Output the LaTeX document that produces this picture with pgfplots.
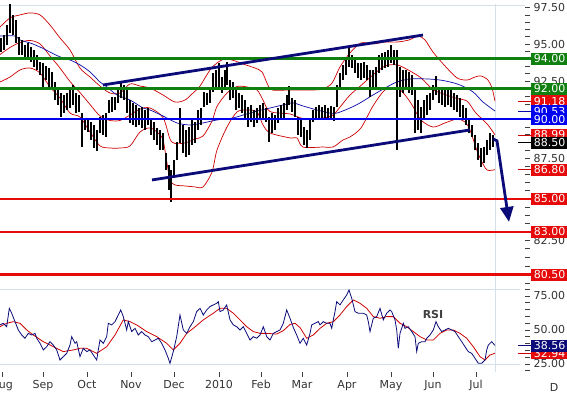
\documentclass[border=0pt]{standalone}
\usepackage{pgfplots}
\pgfplotsset{compat=1.18}
\usepackage{fontspec}
\setmainfont{DejaVu Sans}
\usetikzlibrary{arrows.meta}
\definecolor{grn}{RGB}{16,128,16}
\definecolor{bred}{RGB}{230,10,10}
\definecolor{bblue}{RGB}{0,0,240}
\definecolor{navy}{RGB}{10,10,120}
\definecolor{bandred}{RGB}{205,0,0}
\definecolor{maBlue}{RGB}{10,10,170}
\definecolor{gridc}{RGB}{212,224,234}
\tikzset{lbl/.style={anchor=west, inner sep=0pt, minimum width=37pt, minimum height=12pt, text=white, font=\fontsize{11}{12}\selectfont}}
\begin{document}
\begin{tikzpicture}[x=1pt,y=1pt,font=\fontsize{11}{13}\selectfont]
\path[use as bounding box] (0pt,0pt) rectangle (567pt,396pt);
% ---------------- price panel (logarithmic price scale) ----------------
\begin{axis}[
  at={(0pt,107pt)}, anchor=south west, scale only axis, width=525pt, height=285pt,
  xmin=0, xmax=525,
  y coord trafo/.code={\pgfmathparse{ln(#1)}},
  y coord inv trafo/.code={\pgfmathparse{exp(#1)}},
  ymin=79.67, ymax=97.77,
  axis x line=none, axis y line*=right, y axis line style={draw=none},
  ytick={82.5,85,87.5,90,92.5,95,97.5},
  yticklabels={82.50,85.00,87.50,90.00,92.50,95.00,97.50},
  minor ytick={80,80.5,81,81.5,82,83,83.5,84,84.5,85.5,86,86.5,87,88,88.5,89,89.5,90.5,91,91.5,92,93,93.5,94,94.5,95.5,96,96.5,97},
  scaled y ticks=false,
  tick align=outside, major tick length=5pt, minor tick length=5pt,
  every tick/.style={black!75, line width=0.7pt},
  yticklabel style={text=black!80, font=\fontsize{11}{13}\selectfont},
  clip=false,
]
% frame lines
\addplot[gridc, line width=0.8pt] coordinates {(0,97.7)(525,97.7)};
\addplot[gridc, line width=0.8pt] coordinates {(495,79.67)(495,97.77)};
% Bollinger upper
\addplot[bandred, line width=0.7pt, smooth] coordinates {(0,96.16)(10,96.79)(20,97.00)(30,97.14)(40,97.00)(50,96.30)(60,95.41)(70,94.59)(80,93.37)(90,92.77)(100,92.17)(110,91.71)(120,91.71)(130,92.31)(140,92.17)(150,92.04)(163,91.58)(175,91.12)(185,91.25)(193,91.71)(200,92.17)(210,93.24)(217,93.71)(225,93.98)(235,93.85)(243,93.64)(255,93.37)(262,93.11)(267,92.37)(272,91.91)(290,91.91)(313,91.91)(323,91.98)(332,92.37)(340,93.44)(350,94.39)(361,95.07)(373,95.00)(385,95.13)(397,95.13)(409,95.27)(418,95.54)(425,95.27)(433,94.45)(445,93.51)(457,92.71)(467,92.57)(475,92.77)(481,92.84)(488,92.57)(492,92.04)(495,91.18)};
% Bollinger middle
\addplot[bandred, line width=0.7pt, smooth] coordinates {(0,94.28)(10,94.76)(20,95.10)(30,95.24)(40,95.00)(50,94.18)(60,93.37)(70,92.47)(80,91.74)(90,90.96)(100,90.21)(110,89.92)(120,89.92)(130,90.27)(140,90.66)(150,90.73)(163,90.11)(170,88.73)(175,88.45)(185,88.48)(195,88.73)(203,88.92)(212,89.88)(217,90.83)(227,91.71)(237,92.14)(247,92.11)(257,91.91)(263,91.25)(270,90.50)(290,90.34)(303,90.05)(323,90.08)(333,90.27)(343,91.03)(350,91.58)(361,92.21)(373,92.91)(385,93.51)(397,93.58)(409,93.21)(421,92.71)(433,91.94)(445,91.61)(457,91.35)(467,91.18)(475,90.47)(481,90.08)(488,89.63)(495,88.99)};
% Bollinger lower
\addplot[bandred, line width=0.7pt, smooth] coordinates {(0,92.44)(10,92.77)(20,93.24)(30,93.37)(40,93.04)(50,92.11)(60,91.38)(70,90.40)(80,90.14)(90,89.18)(100,88.29)(110,88.16)(120,88.16)(130,88.29)(140,89.18)(150,89.44)(158,89.12)(163,88.67)(167,87.21)(170,86.16)(175,85.85)(185,85.79)(195,85.73)(203,85.73)(212,86.65)(217,88.03)(227,89.50)(237,90.47)(247,90.60)(257,90.47)(263,89.63)(270,89.12)(290,88.80)(297,88.80)(303,88.22)(323,88.22)(333,88.22)(343,88.67)(350,88.86)(361,89.44)(373,90.86)(385,91.91)(397,92.04)(405,91.58)(412,90.93)(421,89.95)(433,89.50)(445,89.76)(457,90.01)(465,89.82)(470,89.31)(476,88.16)(481,87.40)(487,86.78)(495,86.80)};
% moving average (blue)
\addplot[maBlue, line width=0.7pt, smooth] coordinates {(0,95.54)(15,95.54)(20,95.27)(30,95.07)(40,94.79)(50,94.45)(60,94.12)(70,93.91)(80,93.58)(90,93.11)(100,92.44)(107,92.11)(117,91.58)(130,91.25)(143,90.73)(150,90.60)(163,90.21)(177,89.76)(190,89.63)(203,89.76)(217,89.95)(233,90.08)(243,90.27)(257,90.53)(270,90.73)(283,90.93)(293,91.06)(303,90.86)(317,90.60)(330,90.40)(337,90.40)(350,90.73)(360,91.06)(373,91.58)(387,92.11)(397,92.44)(410,92.64)(427,92.64)(440,92.57)(450,92.44)(460,92.24)(473,91.78)(483,91.12)(495,90.53)};
% price bars: x / low / high
\foreach \x/\l/\h in {1/94.45/95.41,4/94.59/95.61,7/94.93/96.30,10/95.75/97.77,13/95.61/97.00,16/95.07/96.65,19/94.25/95.47,22/94.25/95.27,25/94.05/94.93,28/93.91/95.07,31/93.78/94.79,34/93.44/94.59,37/93.24/94.25,40/92.91/93.78,43/92.11/93.71,46/92.57/93.51,49/92.04/93.37,52/92.04/93.11,55/91.25/92.44,58/90.93/92.04,61/90.14/91.71,64/90.40/91.58,67/90.60/91.71,70/90.73/92.04,73/90.93/92.24,76/90.40/91.71,79/90.47/91.58,82/88.22/90.40,85/89.31/90.08,88/89.18/89.95,91/88.67/89.82,94/88.16/89.63,97/87.97/89.31,100/89.12/90.14,103/88.99/90.27,106/88.86/90.40,109/90.40/91.25,112/90.47/91.45,115/90.60/91.45,118/91.06/91.91,121/91.38/92.44,124/91.25/92.24,127/90.40/91.91,130/89.76/91.25,133/89.63/91.06,136/89.50/90.93,139/89.63/90.73,142/89.44/90.80,145/89.31/90.60,148/89.63/90.73,151/88.99/89.95,154/88.67/89.82,157/88.35/89.44,160/88.03/89.31,163/88.03/89.12,166/86.78/87.84,169/85.54/87.09,171/84.81/86.78,174/86.35/87.40,177/87.40/88.54,180/88.48/90.73,183/87.84/89.63,186/87.59/89.31,189/87.72/89.50,192/88.35/89.95,195/88.48/89.82,198/89.31/90.60,201/89.63/90.73,204/90.80/91.78,207/90.93/91.71,210/91.06/91.91,213/91.78/93.04,216/92.04/93.24,219/92.11/93.71,222/91.71/92.77,225/92.04/93.24,227/92.24/93.78,230/91.25/92.57,233/91.38/92.44,236/90.60/91.91,239/90.73/91.71,242/90.40/91.58,245/90.08/91.25,248/89.50/90.80,251/89.82/90.93,254/89.50/90.60,257/89.76/90.73,260/89.95/90.93,263/90.08/91.06,266/89.82/90.73,269/88.54/90.14,272/89.12/90.40,275/89.31/90.27,278/89.76/90.73,281/89.95/90.93,284/90.08/91.06,287/90.60/91.58,289/90.93/92.17,292/90.47/91.38,295/90.14/91.25,298/88.99/90.14,301/88.86/90.08,304/88.35/89.50,307/88.16/89.31,310/88.67/89.95,313/89.82/90.60,316/89.95/90.80,319/90.08/90.93,322/89.95/90.80,325/90.08/90.93,328/89.95/90.73,331/90.01/90.86,334/89.88/90.80,337/90.80/92.24,340/91.91/93.04,343/92.57/93.58,346/92.91/94.05,349/93.44/94.73,352/93.37/94.25,355/93.04/93.91,358/92.71/93.71,361/92.57/93.71,364/92.71/93.78,367/92.57/93.58,370/91.45/93.24,373/91.91/93.24,376/92.11/93.44,379/93.04/94.25,382/93.24/94.39,385/93.37/94.45,388/93.44/94.59,391/93.71/94.93,394/93.58/94.59,397/88.03/94.59,400/91.45/93.44,403/91.71/93.24,406/91.91/93.24,409/91.71/93.11,412/91.58/92.91,415/89.12/92.11,418/89.31/91.25,421/89.12/90.80,424/89.95/91.25,427/90.27/91.58,430/90.60/91.71,433/91.25/92.24,436/91.58/92.84,439/91.06/92.11,442/90.93/92.04,445/90.80/91.91,448/90.93/92.11,451/90.80/92.04,454/90.60/91.71,457/90.47/91.58,460/90.14/91.38,463/89.95/90.93,466/89.63/90.73,469/89.12/89.95,472/88.86/89.63,475/88.03/88.99,478/87.40/88.48,481/86.97/88.16,484/87.21/88.22,487/87.72/88.67,490/88.03/89.12,493/88.22/88.99}{%
  \edef\temp{\noexpand\addplot[black, line width=1.1pt, forget plot] coordinates {(\x,\l)(\x,\h)};}\temp
}
% horizontal support / resistance lines
\addplot[grn, line width=2.5pt] coordinates {(0,94)(532,94)};
\addplot[grn, line width=2.5pt] coordinates {(0,92)(532,92)};
\addplot[bblue, line width=2.5pt] coordinates {(0,90)(532,90)};
\addplot[bred, line width=2.5pt] coordinates {(0,85)(532,85)};
\addplot[bred, line width=2.5pt] coordinates {(0,83)(532,83)};
\addplot[bred, line width=2.5pt] coordinates {(0,80.5)(532,80.5)};
% trend channel and projection
\addplot[navy, line width=2.8pt] coordinates {(103,92.24)(423,95.61)};
\addplot[navy, line width=2.8pt] coordinates {(152,86.16)(470,89.31)};
\addplot[navy, line width=2.8pt, -{Triangle[width=13pt,length=15pt]}] coordinates {(493,88.74)(497,88.61)(509,83.60)};
% value pointers
\addplot[bandred, line width=0.8pt] coordinates {(518,91.18)(532,91.18)};
\addplot[maBlue, line width=0.8pt] coordinates {(518,90.53)(532,90.53)};
\addplot[bandred, line width=0.8pt] coordinates {(518,88.99)(532,88.99)};
\addplot[black, line width=0.8pt] coordinates {(518,88.50)(532,88.50)};
\addplot[bandred, line width=0.8pt] coordinates {(518,86.80)(532,86.80)};
\coordinate (L9118) at (axis cs:531,91.18);
\coordinate (L9053) at (axis cs:531,90.53);
\coordinate (L8899) at (axis cs:531,88.99);
\coordinate (L8680) at (axis cs:531,86.80);
\coordinate (L94) at (axis cs:531,94);
\coordinate (L92) at (axis cs:531,92);
\coordinate (L90) at (axis cs:531,90);
\coordinate (L85) at (axis cs:531,85);
\coordinate (L83) at (axis cs:531,83);
\coordinate (L805) at (axis cs:531,80.5);
\coordinate (L885) at (axis cs:531,88.5);
\end{axis}
\node[lbl, fill=bred] at (L9118) {91.18};
\node[lbl, fill=bblue] at (L9053) {90.53};
\node[lbl, fill=bred] at (L8899) {88.99};
\node[lbl, fill=bred] at (L8680) {86.80};
\node[lbl, fill=grn] at (L94) {94.00};
\node[lbl, fill=grn] at (L92) {92.00};
\node[lbl, fill=bblue] at (L90) {90.00};
\node[lbl, fill=bred] at (L85) {85.00};
\node[lbl, fill=bred] at (L83) {83.00};
\node[lbl, fill=bred] at (L805) {80.50};
\node[lbl, fill=black] at (L885) {88.50};
% ---------------- RSI panel ----------------
\begin{axis}[
  at={(0pt,24pt)}, anchor=south west, scale only axis, width=525pt, height=83pt,
  xmin=0, xmax=525, ymin=19.1, ymax=80.1,
  axis x line*=bottom, axis y line*=right, axis line style={draw=none},
  xtick={2,43,87,131,174,219,261,302,347,391,433,476},
  xticklabels={Aug,Sep,Oct,Nov,Dec,2010,Feb,Mar,Apr,May,Jun,Jul},
  ytick={25,50,75}, yticklabels={25.00,50.00,75.00},
  minor ytick={20,30,35,40,45,55,60,65,70,80},
  tick align=outside, major tick length=5pt, minor tick length=5pt,
  every tick/.style={black!75, line width=0.7pt},
  ticklabel style={text=black!80, font=\fontsize{11}{13}\selectfont},
  clip=false,
]
\addplot[gridc, line width=0.8pt] coordinates {(0,80.1)(520,80.1)};
\addplot[gridc, line width=0.8pt] coordinates {(0,25)(520,25)};
\addplot[gridc, line width=0.8pt] coordinates {(495,19.1)(495,80.1)};
\addplot[bandred, line width=0.8pt] coordinates {(0,52.4)(6.7,54.9)(13.3,56.1)(20,54.9)(26.7,50.0)(33.3,46.3)(43.3,41.4)(53.3,37.7)(63.3,34.1)(73.3,35.3)(80,36.5)(86.7,36.5)(96.7,32.8)(106.7,37.7)(115,46.3)(123.3,57.4)(130,56.1)(136.7,53.7)(146.7,48.8)(156.7,45.1)(166.7,40.2)(173.3,35.3)(180,40.2)(186.7,47.5)(193.3,51.2)(203.3,57.4)(213.3,62.3)(220,65.9)(226.7,65.9)(233.3,62.3)(240,57.4)(246.7,52.4)(253.3,48.8)(260,47.5)(266.7,47.5)(276.7,47.0)(283.3,49.5)(290,54.0)(295,54.9)(300,51.8)(306.7,43.9)(313.3,46.3)(320,51.2)(326.7,54.9)(333.3,56.1)(340,61.0)(346.7,67.2)(353.3,72.1)(360,69.6)(366.7,65.9)(373.3,59.8)(380,58.6)(386.7,59.8)(393.3,59.8)(400,54.9)(406.7,52.4)(413.3,48.8)(420,45.1)(426.7,42.6)(433.3,42.6)(440,47.5)(446.7,50.0)(453.3,50.0)(460,47.5)(466.7,43.9)(473.3,37.7)(480,30.4)(485,27.9)(490,31.6)(495,32.9)};
\addplot[navy, line width=0.8pt] coordinates {(0,53.7)(3.3,54.9)(6.7,52.4)(9.3,65.9)(11.7,62.3)(15,56.1)(18.3,50.0)(21.7,46.3)(25,43.9)(28.3,47.5)(31.7,46.3)(35,47.5)(36.7,43.9)(40,40.2)(43.3,35.3)(46.7,37.7)(50,41.4)(53.3,38.9)(56.7,35.3)(60,27.9)(63.3,30.4)(66.7,32.8)(70,38.9)(71.7,45.1)(75,40.2)(76.7,41.4)(80,30.4)(83.3,36.5)(86.7,34.1)(90,35.3)(93.3,31.6)(96.7,27.9)(98.3,35.3)(100,42.6)(103.3,40.2)(106.7,45.1)(108.3,54.9)(111.7,53.7)(115,56.1)(118.3,61.0)(120.7,64.7)(123.3,59.8)(126.7,50.0)(128.3,56.1)(131.7,48.8)(135,51.2)(138.3,46.3)(141.7,48.8)(145,46.3)(148.3,45.1)(151.7,41.4)(155,42.6)(158.3,43.9)(161.7,40.2)(165,35.3)(168.3,29.2)(170,25.5)(173.3,34.1)(176.7,45.1)(180,61.0)(183.3,50.0)(186.7,47.5)(190,52.4)(193.3,56.1)(196.7,63.5)(200,65.9)(203.3,61.0)(206.7,64.7)(210,67.2)(213.3,68.4)(216.7,69.6)(218.3,70.8)(220,63.5)(223.3,64.7)(226.7,68.4)(230,57.4)(233.3,53.7)(236.7,52.4)(240,50.0)(243.3,52.4)(246.7,47.5)(250,42.6)(253.3,45.1)(256.7,43.9)(260,46.3)(263.3,52.4)(266.7,45.1)(270,42.6)(273.3,47.5)(276.7,48.8)(280,50.0)(283.3,54.9)(286.7,64.7)(290,58.6)(293.3,51.8)(296.7,46.3)(300,40.2)(303.3,43.9)(306.7,38.9)(310,47.5)(311.7,53.7)(315,54.9)(318.3,56.1)(320,53.7)(323.3,56.1)(326.7,54.9)(330,54.9)(331.7,51.2)(333.3,57.4)(335,63.5)(336.7,70.8)(340,68.4)(343.3,72.1)(346.7,75.7)(349,79.4)(351.7,73.3)(355,63.5)(358.3,62.3)(363.3,62.3)(366.7,61.0)(368.3,56.1)(370,48.8)(373.3,58.6)(376.7,59.8)(380,65.9)(383.3,57.4)(386.7,62.3)(390,64.7)(391.7,63.5)(395,57.4)(396.7,50.0)(398.3,36.5)(400,47.5)(403.3,54.9)(405,51.2)(408.3,52.4)(411.7,48.8)(415,45.1)(416.7,34.1)(418.3,40.2)(421.7,41.4)(425,41.4)(426.7,43.9)(430,46.3)(433.3,50.0)(436,56.1)(438.3,52.4)(441.7,48.8)(445,50.0)(448.3,51.2)(451.7,50.0)(455,48.8)(458.3,45.1)(461.7,41.4)(465,37.7)(468.3,34.1)(471.7,32.8)(475,29.2)(478.3,25.5)(481.7,25.5)(485,27.9)(486.7,35.3)(488.3,38.9)(491.7,41.4)(495,38.6)};
\addplot[navy, line width=0.8pt] coordinates {(518,38.56)(532,38.56)};
\addplot[bandred, line width=0.8pt] coordinates {(518,32.94)(532,32.94)};
\node[font=\bfseries\fontsize{11}{13}\selectfont, text=black!75] at (axis cs:433,61) {RSI};
\coordinate (R1) at (axis cs:531,38.56);
\coordinate (R2) at (axis cs:531,32.94);
\end{axis}
\node[lbl, fill=bred] at (R2) {32.94};
\node[lbl, fill=navy] at (R1) {38.56};
\node[text=black!80] at (554pt,9pt) {D};
\end{tikzpicture}
\end{document}
